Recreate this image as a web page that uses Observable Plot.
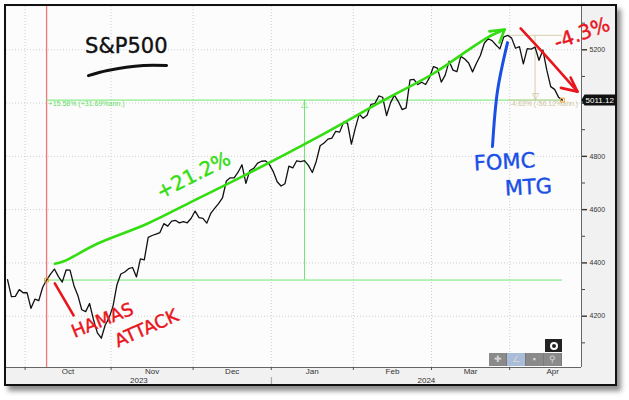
<!DOCTYPE html>
<html><head><meta charset="utf-8">
<script src="https://cdn.jsdelivr.net/npm/d3@7"></script>
<script src="https://cdn.jsdelivr.net/npm/@observablehq/plot@0.6"></script>
<style>
body{margin:0;background:#fff;}
#wrap{position:relative;width:629px;height:400px;overflow:hidden;background:#fff;font-family:"Liberation Sans",Arial,sans-serif;}
#frame{position:absolute;left:4px;top:4px;width:609px;height:378px;border:2px solid #111;background:#f1f1f1;box-shadow:4px 5px 5px rgba(0,0,0,0.45);}
#clip{position:absolute;left:6px;top:6px;width:609px;height:378px;overflow:hidden;}
#clip svg{display:block;overflow:hidden;}
.btn{position:absolute;left:545px;top:339px;width:17px;height:13px;background:#222;}
.btn:after{content:"";position:absolute;left:5px;top:3px;width:4px;height:4px;border:2px solid #fff;border-radius:50%;}
.bar{position:absolute;left:489px;top:353px;width:73px;height:13px;background:#8a8a8a;display:flex;}
.bar span{flex:1;color:#d6d6d6;font-size:9px;line-height:13px;text-align:center;border-right:1px solid #7a7a7a;}
.bar span.on{background:#a9bdd8;}
</style></head>
<body>
<div id="wrap">
  <div id="frame"></div>
  <div id="clip"></div>
  <div class="btn"></div>
  <div class="bar"><span>✚</span><span class="on">∠</span><span>▪</span><span>⚲</span></div>
</div>
<script>
// ---------- data: S&P 500 daily closes ----------
const dates = [
"2023-09-25","2023-09-26","2023-09-27","2023-09-28","2023-09-29",
"2023-10-02","2023-10-03","2023-10-04","2023-10-05","2023-10-06","2023-10-09","2023-10-10","2023-10-11","2023-10-12","2023-10-13","2023-10-16","2023-10-17","2023-10-18","2023-10-19","2023-10-20","2023-10-23","2023-10-24","2023-10-25","2023-10-26","2023-10-27","2023-10-30","2023-10-31",
"2023-11-01","2023-11-02","2023-11-03","2023-11-06","2023-11-07","2023-11-08","2023-11-09","2023-11-10","2023-11-13","2023-11-14","2023-11-15","2023-11-16","2023-11-17","2023-11-20","2023-11-21","2023-11-22","2023-11-24","2023-11-27","2023-11-28","2023-11-29","2023-11-30",
"2023-12-01","2023-12-04","2023-12-05","2023-12-06","2023-12-07","2023-12-08","2023-12-11","2023-12-12","2023-12-13","2023-12-14","2023-12-15","2023-12-18","2023-12-19","2023-12-20","2023-12-21","2023-12-22","2023-12-26","2023-12-27","2023-12-28","2023-12-29",
"2024-01-02","2024-01-03","2024-01-04","2024-01-05","2024-01-08","2024-01-09","2024-01-10","2024-01-11","2024-01-12","2024-01-16","2024-01-17","2024-01-18","2024-01-19","2024-01-22","2024-01-23","2024-01-24","2024-01-25","2024-01-26","2024-01-29","2024-01-30","2024-01-31",
"2024-02-01","2024-02-02","2024-02-05","2024-02-06","2024-02-07","2024-02-08","2024-02-09","2024-02-12","2024-02-13","2024-02-14","2024-02-15","2024-02-16","2024-02-20","2024-02-21","2024-02-22","2024-02-23","2024-02-26","2024-02-27","2024-02-28","2024-02-29",
"2024-03-01","2024-03-04","2024-03-05","2024-03-06","2024-03-07","2024-03-08","2024-03-11","2024-03-12","2024-03-13","2024-03-14","2024-03-15","2024-03-18","2024-03-19","2024-03-20","2024-03-21","2024-03-22","2024-03-25","2024-03-26","2024-03-27","2024-03-28",
"2024-04-01","2024-04-02","2024-04-03","2024-04-04","2024-04-05","2024-04-08","2024-04-09","2024-04-10","2024-04-11","2024-04-12","2024-04-15","2024-04-16","2024-04-17","2024-04-18"];
const closes = [
4337.44,4273.53,4274.51,4299.70,4288.05,
4288.39,4229.45,4263.75,4258.19,4308.50,4335.66,4358.24,4376.95,4349.61,4327.78,4373.63,4373.20,4314.60,4278.00,4224.16,4217.04,4247.68,4186.77,4137.23,4117.37,4166.82,4193.80,
4237.86,4317.78,4358.34,4365.98,4378.38,4382.78,4347.35,4415.24,4411.55,4495.70,4502.88,4508.24,4514.02,4547.38,4538.19,4556.62,4559.34,4550.43,4554.89,4550.58,4567.80,
4594.63,4569.78,4567.18,4549.34,4585.59,4604.37,4622.44,4643.70,4707.09,4719.55,4719.19,4740.56,4768.37,4698.35,4746.75,4754.63,4774.75,4781.58,4783.35,4769.83,
4742.83,4704.81,4688.68,4697.24,4763.54,4756.50,4783.45,4780.24,4783.83,4765.98,4739.21,4780.94,4839.81,4850.43,4864.60,4868.55,4894.16,4890.97,4927.93,4924.97,4845.65,
4906.19,4958.61,4942.81,4954.23,4995.06,4997.91,5026.61,5021.84,4953.17,5000.62,5029.73,5005.57,4975.51,4981.80,5087.03,5088.80,5069.53,5078.18,5069.76,5096.27,
5137.08,5130.95,5078.65,5104.76,5157.36,5123.69,5117.94,5175.27,5165.31,5150.48,5117.09,5149.42,5178.51,5224.62,5241.53,5234.18,5218.19,5203.58,5248.49,5254.35,
5243.77,5205.81,5211.49,5147.21,5204.34,5202.39,5209.91,5160.64,5199.06,5123.41,5061.82,5051.41,5022.21,5011.12];

const eventDate = "2023-10-09";                 // red vertical line
const riseDates = ["2023-10-09", "2024-04-18"]; // green measure
const dropDates = ["2024-03-28", "2024-04-18"]; // tan measure
const monthNames = ["Oct", "Nov", "Dec", "Jan", "Feb", "Mar", "Apr"];
const lastMonthTradingDays = 22;
const yearNames = ["2023", "2024"];
const yMajor = [4200, 4400, 4600, 4800, 5000, 5200];
const yMinor = [4100, 4300, 4500, 4700, 4900, 5100, 5300];
const xDomain = [-0.26, 146.88];   // trading-day index
const yDomain = [4007.4, 5362.5];

// hand-drawn annotations, in (trading-day index, index level)
const greenArrow = [[12.1,4397],[14.25,4405],[22.95,4472],[35.75,4547],[47.67,4634],[62.18,4740],[80.09,4878],[96.21,5010],[109.0,5111],[117.7,5197],[122.8,5246],[127.2,5276]];
const greenHead = [[123.3,5269],[127.2,5276],[125.9,5227]];
const redArrow = [[131.3,5280],[138.5,5165],[145.85,5043]];
const redHead = [[141.6,5057],[145.85,5043],[144.1,5096]];
const redTick = [[12.1,4323],[16.9,4203]];
const blueStroke = [[127.95,5227],[125.4,5047],[124.1,4837]];
const underline = [[20.7,5103],[25.6,5122],[34.8,5141],[40.7,5141]];
const notes = [
  {x: 30.4, y: 5212, text: "S&P500", color: "#111", size: 21, rotate: 0},
  {x: 47.6, y: 4728, text: "+21.2%", color: "#33dd11", size: 20, rotate: -27},
  {x: 147.0, y: 5261, text: "-4.3%", color: "#e8161c", size: 20, rotate: -20},
  {x: 24.3, y: 4184, text: "HAMAS", color: "#e8161c", size: 18, rotate: -22},
  {x: 35.6, y: 4154, text: "ATTACK", color: "#e8161c", size: 18, rotate: -24},
  {x: 127.2, y: 4778, text: "FOMC", color: "#1a4fe6", size: 21, rotate: -3},
  {x: 133.3, y: 4683, text: "MTG", color: "#1a4fe6", size: 21, rotate: -3}
];

// ---------- derived ----------
const rows = dates.map((d, i) => ({i, date: d, close: closes[i]}));
const boundaries = [];
for (let i = 1; i < dates.length; i++) if (dates[i].slice(0, 7) !== dates[i - 1].slice(0, 7)) boundaries.push(i - 0.5);
const monthTicks = monthNames.map((name, k) => ({
  name, x: k < boundaries.length - 1 ? (boundaries[k] + boundaries[k + 1]) / 2 : boundaries[k] + lastMonthTradingDays / 2
}));
const yearBoundary = boundaries.find(b => dates[b + 0.5].slice(0, 4) !== dates[b - 0.5].slice(0, 4));
const yearTicks = [
  {name: yearNames[0], x: (xDomain[0] + yearBoundary) / 2},
  {name: yearNames[1], x: (yearBoundary + xDomain[1]) / 2}
];
function measure([d0, d1]) {
  const i0 = dates.indexOf(d0), i1 = dates.indexOf(d1);
  const v0 = closes[i0], v1 = closes[i1];
  const days = (new Date(d1) - new Date(d0)) / 864e5;
  const pct = v1 / v0 - 1, ann = Math.pow(v1 / v0, 365 / days) - 1;
  const f = p => (p >= 0 ? "+" : "") + (p * 100).toFixed(2) + "%";
  return {i0, i1, v0, v1, mid: (i0 + i1) / 2, label: `${f(pct)} (${f(ann)}ann.)`};
}
const rise = measure(riseDates), drop = measure(dropDates);
const eventIdx = dates.indexOf(eventDate);
const last = rows[rows.length - 1];
const toPts = a => a.map(([x, y]) => ({x, y}));
const tagSymbol = {draw(ctx) { ctx.moveTo(0, 0); ctx.lineTo(3, -5.5); ctx.lineTo(42, -5.5); ctx.lineTo(42, 5.5); ctx.lineTo(3, 5.5); ctx.closePath(); }};
// an axis label hidden behind the last-value tag is left blank
const yLabel = d => Math.abs(d - last.close) < 40 ? "" : String(d);

const G = "#6fe86f", T = "#d6cfae";
const hand = {fill: "none", strokeWidth: 2.6, strokeLinecap: "round", strokeLinejoin: "round"};

const chart = Plot.plot({
  width: 609, height: 378,
  marginLeft: 0, marginRight: 34, marginTop: 0, marginBottom: 17,
  x: {type: "linear", domain: xDomain, axis: null},
  y: {type: "linear", domain: yDomain, axis: null},
  style: {background: "transparent", fontFamily: "'Liberation Sans', Arial, sans-serif", overflow: "hidden"},
  marks: [
    Plot.frame({fill: "#fcfcfc"}),
    Plot.ruleY(yMajor, {stroke: "#cfcfcf", strokeDasharray: "1,2"}),
    Plot.ruleX(boundaries, {stroke: "#cfcfcf", strokeDasharray: "1,2"}),
    Plot.ruleX([eventIdx], {stroke: "#f07878", strokeWidth: 1.3}),
    // green measurement
    Plot.ruleY([rise.v0], {x1: rise.i0, x2: rise.i1, stroke: G}),
    Plot.ruleY([rise.v1], {x1: rise.i0, x2: rise.i1, stroke: G}),
    Plot.ruleX([rise.mid], {y1: rise.v0, y2: rise.v1, stroke: G}),
    Plot.text([rise.mid], {x: d => d, y: rise.v1, text: () => "△", fill: G, fontSize: 9, dy: 4}),
    Plot.text([rise.label], {x: rise.i0, y: rise.v1, text: d => d, fill: "#5ede5e", fontSize: 7, textAnchor: "start", lineAnchor: "top", dx: 2, dy: 1}),
    // tan measurement
    Plot.ruleY([drop.v0], {x1: drop.i0, x2: drop.i1, stroke: T}),
    Plot.ruleY([drop.v1], {x1: drop.i0, x2: drop.i1, stroke: T}),
    Plot.ruleX([drop.mid], {y1: drop.v0, y2: drop.v1, stroke: T}),
    Plot.text([drop.mid], {x: d => d, y: drop.v1, text: () => "▽", fill: "#bdb590", fontSize: 9, dy: -4}),
    Plot.text([drop.label], {x: drop.i0, y: drop.v1, text: d => d, fill: "#cfc69e", fontSize: 7, textAnchor: "start", lineAnchor: "top", dx: 2, dy: 1}),
    // price line
    Plot.line(rows, {x: "i", y: "close", stroke: "#111", strokeWidth: 1.3}),
    Plot.dot([rows[rise.i0], last], {x: "i", y: "close", symbol: "square", r: 2.2, stroke: "#f0a030", fill: "none", strokeWidth: 1}),
    // axis lines
    Plot.ruleX([xDomain[1]], {stroke: "#666"}),
    Plot.ruleY([yDomain[0]], {stroke: "#666"}),
    Plot.axisY(yMajor, {anchor: "right", tickSize: 5, tickPadding: 3, strokeWidth: 1.4, fontSize: 7, color: "#333", tickFormat: yLabel, label: null}),
    Plot.axisY(yMinor, {anchor: "right", tickSize: 3, color: "#444", tickFormat: () => "", label: null}),
    Plot.axisX(boundaries, {anchor: "bottom", tickSize: 3, color: "#555", tickFormat: () => "", label: null}),
    Plot.text(monthTicks, {x: "x", text: "name", frameAnchor: "bottom", dy: 6, fontSize: 8, fill: "#333"}),
    Plot.text(yearTicks, {x: "x", text: "name", frameAnchor: "bottom", dy: 15.5, fontSize: 8, fill: "#333"}),
    Plot.text([yearBoundary], {x: d => d, text: () => "|", frameAnchor: "bottom", dy: 14, fontSize: 8, fill: "#777"}),
    // hand annotations
    Plot.line(toPts(greenArrow), {x: "x", y: "y", stroke: "#33dd11", curve: "catmull-rom", ...hand}),
    Plot.line(toPts(greenHead), {x: "x", y: "y", stroke: "#33dd11", ...hand}),
    Plot.line(toPts(redArrow), {x: "x", y: "y", stroke: "#e8161c", curve: "catmull-rom", ...hand}),
    Plot.line(toPts(redHead), {x: "x", y: "y", stroke: "#e8161c", ...hand}),
    Plot.line(toPts(redTick), {x: "x", y: "y", stroke: "#e8161c", ...hand}),
    Plot.line(toPts(blueStroke), {x: "x", y: "y", stroke: "#1a4fe6", curve: "catmull-rom", ...hand, strokeWidth: 3}),
    Plot.line(toPts(underline), {x: "x", y: "y", stroke: "#111", curve: "catmull-rom", ...hand, strokeWidth: 3}),
    Plot.text(notes, {x: "x", y: "y", text: "text", fill: "color", stroke: "color", strokeWidth: 0.4, rotate: "rotate", fontSize: d => d.size, fontFamily: "'DejaVu Sans', sans-serif"}),
    // last value tag
    Plot.dot([last], {y: "close", frameAnchor: "right", symbol: tagSymbol, fill: "#111", stroke: null}),
    Plot.text([last], {y: "close", frameAnchor: "right", text: d => d.close.toFixed(2), fill: "white", fontSize: 8, textAnchor: "start", dx: 4})
  ]
});
document.getElementById("clip").appendChild(chart);
</script>
</body></html>
